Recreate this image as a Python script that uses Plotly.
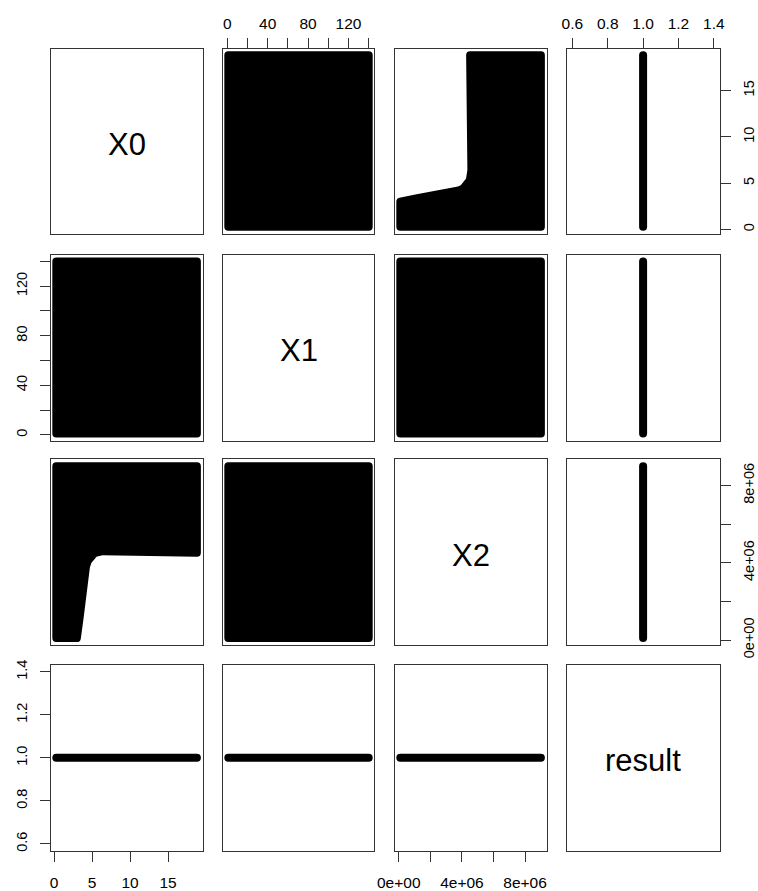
import plotly.graph_objects as go

# ---------------- data ----------------
var_names = ["X0", "X1", "X2", "result"]

x0_limits = [0.3, 18.8]          # min / max of X0
x1_limits = [1.0, 140.0]         # min / max of X1
x2_limits = [0.1e6, 9.0e6]       # min / max of X2
result_value = 1.0               # result is constant

# boundary of the empty (low X2, high X0) corner of the X0-X2 point cloud
edge_x0 = [3.0, 3.35, 3.6, 3.85, 4.2, 4.45, 5.3, 6.4, 13.5, 16.0, 16.5, 18.8]
edge_x2 = [0.1e6, 1.1e6, 2.0e6, 3.1e6, 3.8e6, 4.1e6, 4.5e6, 4.6e6, 4.6e6,
           4.58e6, 4.52e6, 4.52e6]

# tick positions and labels (R drops overlapping labels)
x0_tickvals = [0, 5, 10, 15]
x0_ticktext = ["0", "5", "10", "15"]
x1_tickvals = [0, 20, 40, 60, 80, 100, 120, 140]
x1_ticktext = ["0", "", "40", "", "80", "", "120", ""]
x2_tickvals = [0, 2e6, 4e6, 6e6, 8e6]
x2_ticktext = ["0e+00", "", "4e+06", "", "8e+06"]
res_tickvals = [0.6, 0.8, 1.0, 1.2, 1.4]
res_ticktext = ["0.6", "0.8", "1.0", "1.2", "1.4"]

limits = {"X0": x0_limits, "X1": x1_limits, "X2": x2_limits,
          "result": [result_value, result_value]}
ticks = {"X0": (x0_tickvals, x0_ticktext), "X1": (x1_tickvals, x1_ticktext),
         "X2": (x2_tickvals, x2_ticktext), "result": (res_tickvals, res_ticktext)}


def axis_range(lim):
    lo, hi = lim
    if hi == lo:
        lo, hi = lo * 0.6, hi * 1.4
    d = 0.04 * (hi - lo)
    return [lo - d, hi + d]


# ---------------- layout geometry (pixels) ----------------
W, H = 758, 891
cols = [(50.7, 202.5), (222.7, 374.3), (394.7, 546.5), (566.7, 719.5)]
rows = [(48.5, 233.5), (254.5, 440.5), (459.3, 645.0), (665.0, 850.7)]

FRAME = "#333333"
FONT = "Arial, Liberation Sans, sans-serif"

fig = go.Figure()
layout = dict(template="none", width=W, height=H, autosize=False,
              margin=dict(l=0, r=0, t=0, b=0, pad=0),
              paper_bgcolor="white", plot_bgcolor="white", showlegend=False,
              font=dict(family=FONT, color="black"))
annotations = []


def cloud(xv, yv):
    """closed polygon / line describing the point cloud of (xv, yv)"""
    pair = {xv, yv}
    if "result" in pair:
        other = yv if xv == "result" else xv
        lo, hi = limits[other]
        vals = [lo, hi]
        cst = [result_value, result_value]
        return (cst, vals, False) if xv == "result" else (vals, cst, False)
    if pair == {"X0", "X2"}:
        p0 = [x0_limits[0]] + edge_x0 + [x0_limits[1], x0_limits[0], x0_limits[0]]
        p2 = [x2_limits[0]] + edge_x2 + [x2_limits[1], x2_limits[1], x2_limits[0]]
        return (p0, p2, True) if xv == "X0" else (p2, p0, True)
    xl, yl = limits[xv], limits[yv]
    xs = [xl[0], xl[1], xl[1], xl[0], xl[0]]
    ys = [yl[0], yl[0], yl[1], yl[1], yl[0]]
    return xs, ys, True


for r in range(4):
    for c in range(4):
        k = r * 4 + c + 1
        sfx = "" if k == 1 else str(k)
        xv, yv = var_names[c], var_names[r]
        xa = dict(domain=[cols[c][0] / W, cols[c][1] / W], anchor=f"y{sfx}",
                  range=axis_range(limits[xv]), showgrid=False, zeroline=False,
                  showline=True, mirror=True, linecolor=FRAME, linewidth=1,
                  ticks="", showticklabels=False, fixedrange=True, automargin=False)
        ya = dict(domain=[1 - rows[r][1] / H, 1 - rows[r][0] / H], anchor=f"x{sfx}",
                  range=axis_range(limits[yv]), showgrid=False, zeroline=False,
                  showline=True, mirror=True, linecolor=FRAME, linewidth=1,
                  ticks="", showticklabels=False, fixedrange=True, automargin=False)
        # R pairs(): alternating axes on the outer margins
        if r == 0 and c % 2 == 1:
            tv, tt = ticks[xv]
            xa.update(side="top", ticks="outside", ticklen=10, tickcolor=FRAME,
                      showticklabels=True, tickvals=tv, ticktext=tt,
                      tickfont=dict(size=15.5), ticklabelstandoff=2)
        if r == 3 and c % 2 == 0:
            tv, tt = ticks[xv]
            xa.update(side="bottom", ticks="outside", ticklen=10, tickcolor=FRAME,
                      showticklabels=True, tickvals=tv, ticktext=tt,
                      tickfont=dict(size=15.5), ticklabelstandoff=8)
        if c == 0 and r % 2 == 1:
            tv, tt = ticks[yv]
            ya.update(side="left", ticks="outside", ticklen=10, tickcolor=FRAME,
                      showticklabels=True, tickvals=tv, ticktext=tt, tickangle=-90,
                      tickfont=dict(size=14.5), ticklabelstandoff=7)
        if c == 3 and r % 2 == 0:
            tv, tt = ticks[yv]
            ya.update(side="right", ticks="outside", ticklen=10, tickcolor=FRAME,
                      showticklabels=True, tickvals=tv, ticktext=tt, tickangle=-90,
                      tickfont=dict(size=14.5), ticklabelstandoff=6)
        layout[f"xaxis{sfx}"] = xa
        layout[f"yaxis{sfx}"] = ya

        if r == c:
            # empty diagonal panel: invisible placeholder so the frame is drawn
            fig.add_trace(go.Scatter(x=[None], y=[None], mode="markers",
                                     xaxis=f"x{sfx}", yaxis=f"y{sfx}",
                                     hoverinfo="skip"))
            annotations.append(dict(text=xv, x=0.5, y=0.5, xref=f"x{sfx} domain",
                                    yref=f"y{sfx} domain", showarrow=False,
                                    yshift=-3,
                                    font=dict(size=31, family=FONT, color="black")))
            continue
        xs, ys, filled = cloud(xv, yv)
        fig.add_trace(go.Scatter(
            x=xs, y=ys, mode="lines", xaxis=f"x{sfx}", yaxis=f"y{sfx}",
            fill="toself" if filled else None, fillcolor="black",
            line=dict(color="black", width=8), hoverinfo="skip"))

layout["annotations"] = annotations
fig.update_layout(**layout)

post = ("document.querySelectorAll('.js-line').forEach(function(p){"
        "p.style.strokeLinejoin='round';p.style.strokeLinecap='round';});")
fig.write_html("out.html", post_script=post)
